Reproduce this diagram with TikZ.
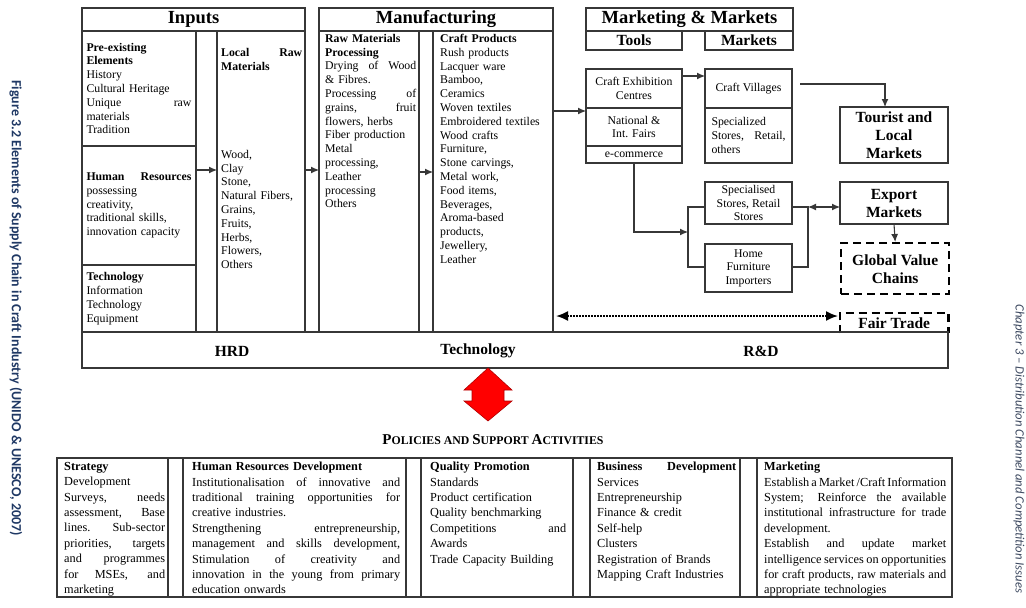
\documentclass[tikz,border=0pt]{standalone}
\usepackage{fontspec}
\setmainfont{Liberation Serif}
\newfontfamily\sidefont{Carlito}
\usetikzlibrary{arrows.meta,calc}
\definecolor{linec}{RGB}{55,55,55}
\definecolor{capblue}{RGB}{31,56,100}
\definecolor{chapgrey}{RGB}{60,72,95}
\newcommand{\jl}[1]{{\spaceskip=0pt\xspaceskip=0pt\makebox[\hsize][s]{#1}}}
\newcommand{\capx}[1]{{\fontsize{15}{16}\selectfont #1}}

\begin{document}
\begin{tikzpicture}[x=1pt,y=-1pt,
  >={Latex[length=8pt,width=7pt]},
  cell/.style={draw=linec,line width=1.1pt,anchor=north west,inner sep=0pt,outer sep=0pt},
  body/.style={font=\fontsize{11.8}{13.8}\selectfont},
  txt/.style={anchor=north west,inner sep=0pt,align=left,font=\fontsize{11.8}{13.8}\selectfont},
  ctxt/.style={align=center,font=\fontsize{11.8}{13.5}\selectfont},
  ttxt/.style={anchor=north west,inner sep=0pt,align=left,font=\fontsize{12.3}{15.4}\selectfont},
  bighead/.style={font=\fontsize{18.5}{20}\selectfont\bfseries},
  midhead/.style={font=\fontsize{15.5}{18}\selectfont\bfseries,align=center},
  dashbox/.style={line width=2.4pt,dash pattern=on 8pt off 5pt},
  conn/.style={line width=1.1pt,draw=linec},
  dotarrow/.style={line width=1.8pt,dash pattern=on 1.6pt off 1.4pt,
    {Latex[length=12pt,width=10pt]}-{Latex[length=12pt,width=10pt]}}]

\useasboundingbox (0,0) rectangle (1026,608);

\node[rotate=-90,text=capblue,font=\sidefont\bfseries\fontsize{14}{16}\selectfont] (figcap) at (16,308) {Figure 3.2 Elements of Supply Chain in Craft Industry (UNIDO \& UNESCO, 2007)};
\node[rotate=-90,text=chapgrey,font=\sidefont\itshape\fontsize{12.7}{14}\selectfont] (chapcap) at (1019,449) {Chapter 3 – Distribution Channel and Competition Issues};

\coordinate (ya) at (0,170);
\coordinate (yb) at (0,172);
\coordinate (yc) at (0,111);
\coordinate (yd) at (0,76);
\coordinate (ye) at (0,207);
\coordinate (yf) at (0,267);
\coordinate (yg) at (0,316);
\coordinate (bx) at (688,232);
\coordinate (jx) at (808,0);

\node[cell,bighead,minimum width=223pt,minimum height=23pt] (inhead) at (82,8) {Inputs};
\node[cell,body,minimum width=114pt,minimum height=115pt,text width=105pt,align=left] (pre) at (82,31) {\textbf{Pre-existing}\\\textbf{Elements}\\History\\Cultural Heritage\\\jl{Unique raw}\\materials\\Tradition};
\node[cell,body,minimum width=114pt,minimum height=119pt,text width=105pt,align=left] (hum) at (82,146) {\jl{\textbf{Human Resources}}\\possessing\\creativity,\\traditional skills,\\innovation capacity};
\node[cell,body,minimum width=114pt,minimum height=67pt,text width=105pt,align=left] (tech) at (82,265) {\textbf{Technology}\\Information\\Technology\\Equipment};
\node[cell,minimum width=21pt,minimum height=301pt] (gapa) at (196,31) {};
\node[cell,minimum width=88pt,minimum height=301pt] (lrm) at (217,31) {};
\node[txt,text width=81pt] (lrmhead) at (221,48) {\jl{\textbf{Local Raw}}\\\textbf{Materials}};
\node[txt,text width=81pt] (lrmlist) at (221,150) {Wood,\\Clay\\Stone,\\Natural Fibers,\\Grains,\\Fruits,\\Herbs,\\Flowers,\\Others};

\node[cell,bighead,minimum width=234pt,minimum height=23pt] (mfhead) at (319,8) {Manufacturing};
\node[cell,minimum width=100pt,minimum height=301pt] (rmp) at (319,31) {};
\node[cell,minimum width=14pt,minimum height=301pt] (gapb) at (419,31) {};
\node[cell,minimum width=120pt,minimum height=301pt] (crp) at (433,31) {};
\node[txt,text width=91pt] (rmptext) at (325,34) {\textbf{Raw Materials}\\\textbf{Processing}\\\jl{Drying of Wood}\\\& Fibres.\\\jl{Processing of}\\\jl{grains, fruit}\\flowers, herbs\\Fiber production\\Metal\\processing,\\Leather\\processing\\Others};
\node[txt,text width=110pt] (crptext) at (440,34) {\textbf{Craft Products}\\Rush products\\Lacquer ware\\Bamboo,\\Ceramics\\Woven textiles\\Embroidered textiles\\Wood crafts\\Furniture,\\Stone carvings,\\Metal work,\\Food items,\\Beverages,\\Aroma-based\\products,\\Jewellery,\\Leather};

\node[cell,bighead,minimum width=207pt,minimum height=23pt] (mkhead) at (586,8) {Marketing \& Markets};
\node[cell,midhead,minimum width=96pt,minimum height=19pt] (toolhead) at (586,31) {Tools};
\node[cell,midhead,minimum width=88pt,minimum height=19pt] (markhead) at (705,31) {Markets};
\node[cell,ctxt,minimum width=96pt,minimum height=39pt] (exhib) at (586,69) {Craft Exhibition\\Centres};
\node[cell,ctxt,minimum width=96pt,minimum height=38pt] (fairs) at (586,108) {National \&\\Int. Fairs};
\node[cell,ctxt,minimum width=96pt,minimum height=17pt] (ecom) at (586,146) {e-commerce};
\node[cell,ctxt,minimum width=87pt,minimum height=39pt] (villages) at (705,69) {Craft Villages};
\node[cell,body,minimum width=87pt,minimum height=55pt,text width=74pt,align=left] (stores) at (705,108) {Specialized\\\jl{Stores, Retail,}\\others};
\node[cell,midhead,minimum width=108pt,minimum height=56pt] (tourist) at (840,107) {Tourist and\\Local\\Markets};
\node[cell,ctxt,minimum width=87pt,minimum height=42pt] (spec) at (705,182) {Specialised\\Stores, Retail\\Stores};
\node[cell,ctxt,minimum width=87pt,minimum height=48pt] (home) at (705,244) {Home\\Furniture\\Importers};
\node[cell,midhead,minimum width=108pt,minimum height=42pt] (export) at (840,182) {Export\\Markets};
\node[midhead,dashbox,draw,anchor=north west,inner sep=0pt,minimum width=108pt,minimum height=51pt] (gvc) at (840,242) {Global Value\\Chains};
\node[midhead,anchor=north west,inner sep=0pt,minimum width=108pt,minimum height=20pt] (fair) at (840,313) {Fair Trade};
\draw[dashbox] (fair.south west) -- (fair.north west) -- (fair.north east) -- (fair.south east);

\node[cell,minimum width=866pt,minimum height=36pt] (band) at (82,332) {};
\node[midhead] (hrd) at (232,351) {HRD};
\node[midhead] (techn) at (478,351) {Technology};
\node[midhead] (rnd) at (761,351) {R\&D};

\draw[conn,->] (hum.east |- ya) -- (lrm.west |- ya);
\draw[conn,->] (lrm.east |- ya) -- (rmp.west |- ya);
\draw[conn,->] (rmp.east |- yb) -- (crp.west |- yb);
\draw[conn,->] (crp.east |- yc) -- (fairs.west |- yc);
\draw[conn,->] (exhib.east |- yd) -- (villages.west |- yd);
\draw[conn,->] ($(villages.east)+(8,-4.5)$) -| ($(tourist.north)+(-9,0)$);
\draw[conn,->] (ecom.south) |- (bx);
\draw[conn] (spec.west |- ye) -- (bx |- ye) -- (bx |- yf) -- (home.west |- yf);
\draw[conn] (spec.east |- ye) -- (jx |- ye) -- (jx |- yf) -- (home.east |- yf);
\draw[conn,<->] (jx |- ye) -- (export.west |- ye);
\draw[conn,->] (export.south) -- (gvc.north);
\draw[dotarrow,shorten <=3pt,shorten >=2pt] (crp.east |- yg) -- (fair.west |- yg);

\fill[red,draw=red!70!black,line width=0.6pt] (488,368) -- (512,390) -- (504,390) -- (504,401) -- (512,401) -- (488,421) -- (464,401) -- (472,401) -- (472,390) -- (464,390) -- cycle;

\node[font=\fontsize{11.8}{16}\selectfont\bfseries] (policies) at (493,440) {\capx{P}OLICIES AND \capx{S}UPPORT \capx{A}CTIVITIES};

\node[cell,minimum width=111pt,minimum height=139pt] (strat) at (57,458) {};
\node[cell,minimum width=15pt,minimum height=139pt] (gapc) at (168,458) {};
\node[cell,minimum width=223pt,minimum height=139pt] (hrdev) at (183,458) {};
\node[cell,minimum width=15pt,minimum height=139pt] (gapd) at (406,458) {};
\node[cell,minimum width=152pt,minimum height=139pt] (qual) at (421,458) {};
\node[cell,minimum width=17pt,minimum height=139pt] (gape) at (573,458) {};
\node[cell,minimum width=150pt,minimum height=139pt] (busi) at (590,458) {};
\node[cell,minimum width=17pt,minimum height=139pt] (gapf) at (740,458) {};
\node[cell,minimum width=195pt,minimum height=139pt] (mktg) at (757,458) {};

\node[ttxt,text width=101pt] (strattext) at (64,462) {\textbf{Strategy}\\Development\\\jl{Surveys, needs}\\\jl{assessment, Base}\\\jl{lines. Sub-sector}\\\jl{priorities, targets}\\\jl{and programmes}\\\jl{for MSEs, and}\\marketing};
\node[ttxt,text width=208pt] (hrdtext) at (192,462) {\textbf{Human Resources Development}\\\jl{Institutionalisation of innovative and}\\\jl{traditional training opportunities for}\\creative industries.\\\jl{Strengthening entrepreneurship,}\\\jl{management and skills development,}\\\jl{Stimulation of creativity and}\\\jl{innovation in the young from primary}\\education onwards};
\node[ttxt,text width=136pt] (qualtext) at (430,462) {\textbf{Quality Promotion}\\Standards\\Product certification\\Quality benchmarking\\\jl{Competitions and}\\Awards\\Trade Capacity Building};
\node[ttxt,text width=139pt] (busitext) at (597,462) {\jl{\textbf{Business Development}}\\Services\\Entrepreneurship\\Finance \& credit\\Self-help\\Clusters\\Registration of Brands\\Mapping Craft Industries};
\node[ttxt,text width=182pt] (mktgtext) at (764,462) {\textbf{Marketing}\\\jl{Establish a Market /Craft Information}\\\jl{System; Reinforce the available}\\\jl{institutional infrastructure for trade}\\development.\\\jl{Establish and update market}\\\jl{intelligence services on opportunities}\\\jl{for craft products, raw materials and}\\appropriate technologies};

\end{tikzpicture}
\end{document}
